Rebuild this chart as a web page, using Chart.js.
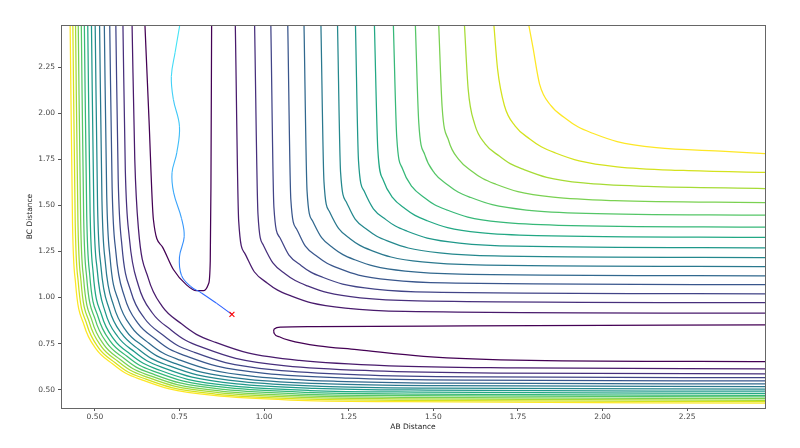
<!DOCTYPE html>
<html>
<head>
<meta charset="utf-8">
<script src="https://cdn.jsdelivr.net/npm/chart.js@4.4.1/dist/chart.umd.min.js"></script>
<style>
  html, body { margin: 0; padding: 0; background: #fff; }
</style>
</head>
<body>
<canvas id="pesChart" width="800" height="448"></canvas>
<script>
"use strict";

// axis ranges and tick labels
var xRange = [0.40, 2.48];
var yRange = [0.40, 2.48];
var xTicks = [0.50, 0.75, 1.00, 1.25, 1.50, 1.75, 2.00, 2.25];
var yTicks = [0.50, 0.75, 1.00, 1.25, 1.50, 1.75, 2.00, 2.25];

// lowest level: the two valleys (AB + C upper left, A + BC lower right, in two halves)
var valleyContours = [
    [[0.648, 2.48], [0.660, 1.967], [0.673, 1.424], [0.700, 1.274], [0.732, 1.152], [0.770, 1.070],
     [0.800, 1.037], [0.822, 1.038], [0.836, 1.075], [0.841, 1.200], [0.843, 1.600], [0.845, 2.48]],
    [[1.028, 0.817], [1.030, 0.805], [1.045, 0.787], [1.075, 0.767], [1.160, 0.737], [1.274, 0.717],
     [1.471, 0.681], [1.787, 0.659], [2.48, 0.652]],
    [[1.028, 0.817], [1.030, 0.829], [1.050, 0.839], [1.150, 0.842], [1.600, 0.846], [2.48, 0.852]]
];

// levels 1..15, inner branch (around the dissociation plateau)
var innerContours = [
    [[0.915, 2.48], [0.925, 1.415], [0.943, 1.240], [0.971, 1.140], [1.010, 1.078], [1.040, 1.040], [1.078, 1.010], [1.140, 0.971], [1.240, 0.943], [1.415, 0.925], [2.48, 0.915]],
    [[0.972, 2.48], [0.982, 1.452], [0.998, 1.284], [1.026, 1.188], [1.063, 1.128], [1.092, 1.092], [1.128, 1.063], [1.188, 1.026], [1.284, 0.998], [1.452, 0.982], [2.48, 0.972]],
    [[1.020, 2.48], [1.029, 1.492], [1.046, 1.327], [1.073, 1.232], [1.110, 1.173], [1.138, 1.138], [1.173, 1.110], [1.232, 1.073], [1.327, 1.046], [1.492, 1.029], [2.48, 1.020]],
    [[1.070, 2.48], [1.079, 1.534], [1.096, 1.372], [1.122, 1.279], [1.158, 1.221], [1.186, 1.186], [1.221, 1.158], [1.279, 1.122], [1.372, 1.096], [1.534, 1.079], [2.48, 1.070]],
    [[1.118, 2.48], [1.127, 1.578], [1.143, 1.417], [1.170, 1.325], [1.205, 1.268], [1.233, 1.233], [1.268, 1.205], [1.325, 1.170], [1.417, 1.143], [1.578, 1.127], [2.48, 1.118]],
    [[1.168, 2.48], [1.177, 1.628], [1.193, 1.467], [1.220, 1.375], [1.255, 1.318], [1.283, 1.283], [1.318, 1.255], [1.375, 1.220], [1.467, 1.193], [1.628, 1.177], [2.48, 1.168]],
    [[1.217, 2.48], [1.226, 1.681], [1.243, 1.519], [1.269, 1.426], [1.305, 1.368], [1.333, 1.333], [1.368, 1.305], [1.426, 1.269], [1.519, 1.243], [1.681, 1.226], [2.48, 1.217]],
    [[1.270, 2.48], [1.279, 1.742], [1.296, 1.577], [1.323, 1.482], [1.360, 1.423], [1.388, 1.388], [1.423, 1.360], [1.482, 1.323], [1.577, 1.296], [1.742, 1.279], [2.48, 1.270]],
    [[1.326, 2.48], [1.336, 1.806], [1.352, 1.638], [1.380, 1.542], [1.417, 1.482], [1.446, 1.446], [1.482, 1.417], [1.542, 1.380], [1.638, 1.352], [1.806, 1.336], [2.48, 1.326]],
    [[1.382, 2.48], [1.392, 1.870], [1.409, 1.699], [1.437, 1.602], [1.475, 1.541], [1.504, 1.504], [1.541, 1.475], [1.602, 1.437], [1.699, 1.409], [1.870, 1.392], [2.48, 1.382]],
    [[1.447, 2.48], [1.457, 1.951], [1.475, 1.775], [1.504, 1.674], [1.543, 1.611], [1.573, 1.573], [1.611, 1.543], [1.674, 1.504], [1.775, 1.475], [1.951, 1.457], [2.48, 1.447]],
    [[1.516, 2.48], [1.526, 2.036], [1.545, 1.854], [1.575, 1.750], [1.615, 1.685], [1.646, 1.646], [1.685, 1.615], [1.750, 1.575], [1.854, 1.545], [2.036, 1.526], [2.48, 1.516]],
    [[1.592, 2.48], [1.603, 2.132], [1.622, 1.943], [1.653, 1.835], [1.695, 1.768], [1.727, 1.727], [1.768, 1.695], [1.835, 1.653], [1.943, 1.622], [2.132, 1.603], [2.48, 1.592]],
    [[1.679, 2.48], [1.690, 2.239], [1.710, 2.043], [1.742, 1.931], [1.785, 1.861], [1.819, 1.819], [1.861, 1.785], [1.931, 1.742], [2.043, 1.710], [2.239, 1.690], [2.48, 1.679]],
    [[1.782, 2.48], [1.794, 2.362], [1.814, 2.159], [1.847, 2.043], [1.892, 1.971], [1.927, 1.927], [1.971, 1.892], [2.043, 1.847], [2.159, 1.814], [2.362, 1.794], [2.48, 1.782]]
];

// levels 1..15, outer branch (repulsive walls)
var outerContours = [
    [[0.610, 2.48], [0.618, 1.750], [0.629, 1.370], [0.658, 1.104], [0.699, 0.952], [0.756, 0.857], [0.800, 0.800], [0.857, 0.756], [0.952, 0.699], [1.104, 0.658], [1.370, 0.629], [1.750, 0.618], [2.48, 0.612]],
    [[0.583, 2.48], [0.590, 1.693], [0.602, 1.323], [0.629, 1.064], [0.670, 0.916], [0.725, 0.824], [0.768, 0.768], [0.824, 0.725], [0.916, 0.670], [1.064, 0.629], [1.323, 0.602], [1.693, 0.590], [2.48, 0.586]],
    [[0.562, 2.48], [0.569, 1.642], [0.580, 1.282], [0.607, 1.030], [0.647, 0.886], [0.701, 0.796], [0.742, 0.742], [0.796, 0.701], [0.886, 0.647], [1.030, 0.607], [1.282, 0.580], [1.642, 0.569], [2.48, 0.565]],
    [[0.544, 2.48], [0.551, 1.600], [0.562, 1.248], [0.588, 1.002], [0.627, 0.861], [0.680, 0.773], [0.720, 0.720], [0.773, 0.680], [0.861, 0.627], [1.002, 0.588], [1.248, 0.562], [1.600, 0.551], [2.48, 0.547]],
    [[0.528, 2.48], [0.535, 1.560], [0.545, 1.216], [0.571, 0.975], [0.609, 0.838], [0.660, 0.752], [0.700, 0.700], [0.752, 0.660], [0.838, 0.609], [0.975, 0.571], [1.216, 0.545], [1.560, 0.535], [2.48, 0.531]],
    [[0.514, 2.48], [0.521, 1.528], [0.531, 1.190], [0.556, 0.953], [0.593, 0.818], [0.644, 0.734], [0.683, 0.683], [0.734, 0.644], [0.818, 0.593], [0.953, 0.556], [1.190, 0.531], [1.528, 0.521], [2.48, 0.516]],
    [[0.501, 2.48], [0.508, 1.503], [0.518, 1.169], [0.543, 0.935], [0.580, 0.802], [0.630, 0.718], [0.668, 0.668], [0.718, 0.630], [0.802, 0.580], [0.935, 0.543], [1.169, 0.518], [1.503, 0.508], [2.48, 0.503]],
    [[0.490, 2.48], [0.497, 1.480], [0.507, 1.150], [0.531, 0.919], [0.568, 0.787], [0.617, 0.705], [0.655, 0.655], [0.705, 0.617], [0.787, 0.568], [0.919, 0.531], [1.150, 0.507], [1.480, 0.497], [2.48, 0.491]],
    [[0.479, 2.48], [0.486, 1.463], [0.495, 1.135], [0.520, 0.905], [0.556, 0.774], [0.605, 0.692], [0.643, 0.643], [0.692, 0.605], [0.774, 0.556], [0.905, 0.520], [1.135, 0.495], [1.463, 0.486], [2.48, 0.480]],
    [[0.469, 2.48], [0.476, 1.447], [0.485, 1.121], [0.510, 0.893], [0.546, 0.762], [0.595, 0.681], [0.632, 0.632], [0.681, 0.595], [0.762, 0.546], [0.893, 0.510], [1.121, 0.485], [1.447, 0.476], [2.48, 0.469]],
    [[0.460, 2.48], [0.467, 1.432], [0.476, 1.108], [0.501, 0.881], [0.536, 0.752], [0.585, 0.671], [0.622, 0.622], [0.671, 0.585], [0.752, 0.536], [0.881, 0.501], [1.108, 0.476], [1.432, 0.467], [2.48, 0.460]],
    [[0.451, 2.48], [0.458, 1.423], [0.467, 1.099], [0.492, 0.872], [0.527, 0.743], [0.576, 0.662], [0.613, 0.613], [0.662, 0.576], [0.743, 0.527], [0.872, 0.492], [1.099, 0.467], [1.423, 0.458], [2.48, 0.451]],
    [[0.443, 2.48], [0.450, 1.415], [0.459, 1.091], [0.484, 0.864], [0.519, 0.735], [0.568, 0.654], [0.605, 0.605], [0.654, 0.568], [0.735, 0.519], [0.864, 0.484], [1.091, 0.459], [1.415, 0.450], [2.48, 0.442]],
    [[0.435, 2.48], [0.442, 1.407], [0.451, 1.083], [0.476, 0.856], [0.511, 0.727], [0.560, 0.646], [0.597, 0.597], [0.646, 0.560], [0.727, 0.511], [0.856, 0.476], [1.083, 0.451], [1.407, 0.442], [2.48, 0.434]],
    [[0.427, 2.48], [0.434, 1.405], [0.443, 1.079], [0.468, 0.851], [0.504, 0.720], [0.553, 0.639], [0.590, 0.590], [0.639, 0.553], [0.720, 0.504], [0.851, 0.468], [1.079, 0.443], [1.405, 0.434], [2.48, 0.427]]
];

// trajectory (AB, BC) and its final point
var trajectory = [
    [0.751, 2.48], [0.737, 2.33], [0.726, 2.20], [0.732, 2.076], [0.750, 1.93], [0.742, 1.786],
    [0.728, 1.678], [0.733, 1.568], [0.756, 1.43], [0.764, 1.33], [0.750, 1.22], [0.756, 1.12],
    [0.783, 1.06], [0.815, 1.025], [0.860, 0.968], [0.905, 0.908]
];
var endPoint = [0.905, 0.908];

// viridis colours for levels 0..15
var levelColors = ["#440154", "#481a6c", "#472f7c", "#414487", "#39568c", "#31688e", "#2a788e", "#24888d",
                   "#1f988a", "#22a884", "#36b878", "#55c667", "#7ad151", "#a6db35", "#d4e21d", "#fde725"];

var trajTop = [70, 228, 245];
var trajBottom = [45, 95, 255];

function toPoints(pairs) {
    return pairs.map(function (p) { return { x: p[0], y: p[1] }; });
}

function contourSet(pairs, color) {
    return {
        data: toPoints(pairs),
        showLine: true,
        borderColor: color,
        borderWidth: 1.25,
        pointRadius: 0,
        cubicInterpolationMode: "monotone",
        fill: false
    };
}

var datasets = [];
// marker on top
datasets.push({
    data: toPoints([endPoint]),
    pointStyle: "crossRot",
    pointRadius: 3.5,
    borderColor: "#ff0000",
    backgroundColor: "#ff0000",
    pointBorderWidth: 1.1,
    showLine: false
});
datasets.push({
    data: toPoints(trajectory),
    showLine: true,
    borderWidth: 1.1,
    pointRadius: 0,
    tension: 0.4,
    borderColor: "rgb(70,228,245)",
    segment: {
        borderColor: function (ctx) {
            var f = ctx.p0DataIndex / (trajectory.length - 2);
            var c = trajTop.map(function (v, i) { return Math.round(v + (trajBottom[i] - v) * f); });
            return "rgb(" + c.join(",") + ")";
        }
    }
});
valleyContours.forEach(function (c) { datasets.push(contourSet(c, levelColors[0])); });
innerContours.forEach(function (c, i) { datasets.push(contourSet(c, levelColors[i + 1])); });
outerContours.forEach(function (c, i) { datasets.push(contourSet(c, levelColors[i + 1])); });

var tickFont = { family: "DejaVu Sans", size: 7.5 };
var tickColor = "#444";

// frame around the plot area
var framePlugin = {
    id: "frame",
    afterDraw: function (chart) {
        var a = chart.chartArea;
        var ctx = chart.ctx;
        ctx.save();
        ctx.strokeStyle = "#666";
        ctx.lineWidth = 1;
        ctx.strokeRect(Math.round(a.left) + 0.5, Math.round(a.top) + 0.5,
                       Math.round(a.right - a.left), Math.round(a.bottom - a.top));
        ctx.restore();
    }
};

var PESCHART = document.getElementById("pesChart");
var pesChart = new Chart(PESCHART, {
    type: "scatter",
    data: { datasets: datasets },
    plugins: [framePlugin],
    options: {
        responsive: false,
        animation: false,
        layout: { padding: { left: 0, top: 25, right: 35, bottom: 0 } },
        plugins: {
            legend: { display: false },
            tooltip: { enabled: false }
        },
        scales: {
            x: {
                type: "linear",
                min: xRange[0],
                max: xRange[1],
                afterBuildTicks: function (scale) {
                    scale.ticks = xTicks.map(function (v) { return { value: v }; });
                },
                afterFit: function (scale) { scale.height = 40; },
                ticks: {
                    autoSkip: false,
                    maxRotation: 0,
                    padding: 2,
                    font: tickFont,
                    color: tickColor,
                    callback: function (v) { return Number(v).toFixed(2); }
                },
                grid: { drawOnChartArea: false, tickLength: 3, color: "#555" },
                border: { display: false },
                title: {
                    display: true,
                    text: "AB Distance",
                    font: tickFont,
                    color: "#222",
                    padding: { top: 0, bottom: 16 }
                }
            },
            y: {
                type: "linear",
                min: yRange[0],
                max: yRange[1],
                afterBuildTicks: function (scale) {
                    scale.ticks = yTicks.map(function (v) { return { value: v }; });
                },
                afterFit: function (scale) { scale.width = 61; },
                ticks: {
                    autoSkip: false,
                    padding: 3,
                    font: tickFont,
                    color: tickColor,
                    callback: function (v) { return Number(v).toFixed(2); }
                },
                grid: { drawOnChartArea: false, tickLength: 3, color: "#555" },
                border: { display: false },
                title: {
                    display: true,
                    text: "BC Distance",
                    font: tickFont,
                    color: "#222",
                    padding: { top: 26, bottom: 0 }
                }
            }
        }
    }
});
</script>
</body>
</html>
